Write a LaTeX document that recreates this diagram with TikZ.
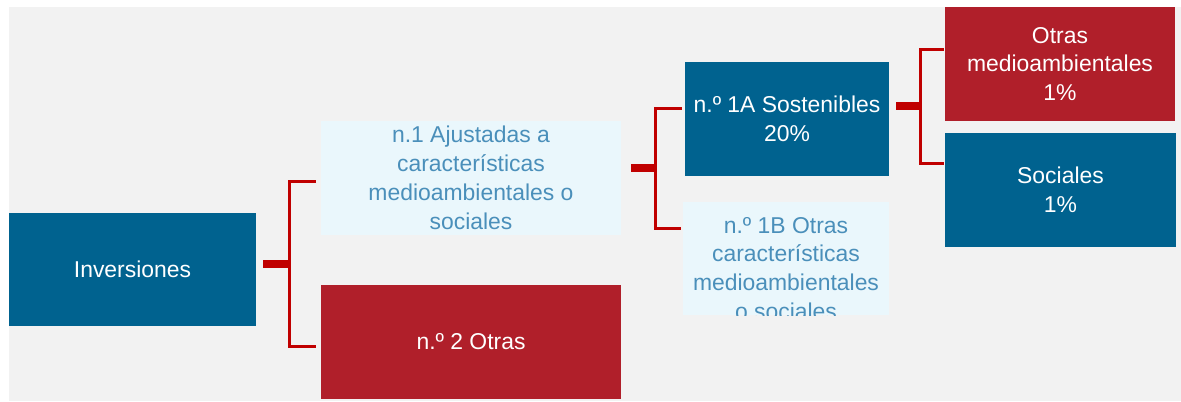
\documentclass[tikz,border=0pt]{standalone}
\usepackage{fontspec}
\setmainfont{Liberation Sans}
\usetikzlibrary{calc}
\definecolor{invblue}{RGB}{0,98,143}
\definecolor{invred}{RGB}{176,31,42}
\definecolor{lightbg}{RGB}{234,247,252}
\definecolor{lighttxt}{RGB}{74,143,186}
\definecolor{linkred}{RGB}{192,0,0}
\definecolor{panel}{RGB}{242,242,242}

\begin{document}
\begin{tikzpicture}
  [
    x=1bp, y=-1bp,
    box/.style =
      {rectangle, inner sep=0pt, align=center, minimum height=114bp,
       font=\fontsize{23}{29}\selectfont},
    bluebox/.style =
      {box, fill=invblue, text=white},
    redbox/.style =
      {box, fill=invred, text=white},
    lightbox/.style =
      {box, fill=lightbg, text=lighttxt},
    stub/.style =
      {draw=linkred, line width=8bp},
    branch/.style =
      {draw=linkred, line width=3bp}
  ]

\useasboundingbox (0,0) rectangle (1181,401);
\fill[white] (0,0) rectangle (1181,401);
\fill[panel] (9,7) rectangle (1181,401);

\node[bluebox, minimum width=247bp, minimum height=113bp] (inv) at (132.5,269) {Inversiones};
\node[lightbox, minimum width=300bp] (aj) at (471,178) {n.1 Ajustadas a\\características\\medioambientales o\\sociales};
\node[redbox, minimum width=300bp] (o2) at (471,342) {n.º 2 Otras};
\node[bluebox, minimum width=204bp] (s1a) at (787,119) {n.º 1A Sostenibles\\20\%};
\node[lightbox, minimum width=206bp, minimum height=113bp] (o1b) at (786,258.5) {};
\begin{scope}
  \clip (o1b.north west) rectangle (o1b.south east);
  \node[lightbox, fill=none] (o1bt) at ($(o1b.center)+(0,10)$) {n.º 1B Otras\\características\\medioambientales\\o sociales};
\end{scope}
\node[redbox, minimum width=230bp] (omed) at (1060,64) {Otras\\medioambientales\\1\%};
\node[bluebox, minimum width=231bp] (soc) at (1060.5,190) {Sociales\\1\%};

\coordinate (j1) at (289,264);
\coordinate (j2) at (655,168);
\coordinate (j3) at (920,106);

\draw[stub] ($(inv.east |- j1)+(7,0)$) -- (j1);
\draw[branch] ($(aj.west)+(-5,3)$) -| (j1) |- ($(o2.west)+(-5,4)$);

\draw[stub] ($(aj.east |- j2)+(10,0)$) -- (j2);
\draw[branch] ($(s1a.west)+(-3,-11)$) -| (j2) |- ($(o1b.west)+(-2,-30)$);

\draw[stub] ($(s1a.east |- j3)+(7,0)$) -- (j3);
\draw[branch] ($(omed.west)+(-1,-15)$) -| (j3) |- ($(soc.west)+(-1,-27)$);

\end{tikzpicture}
\end{document}
